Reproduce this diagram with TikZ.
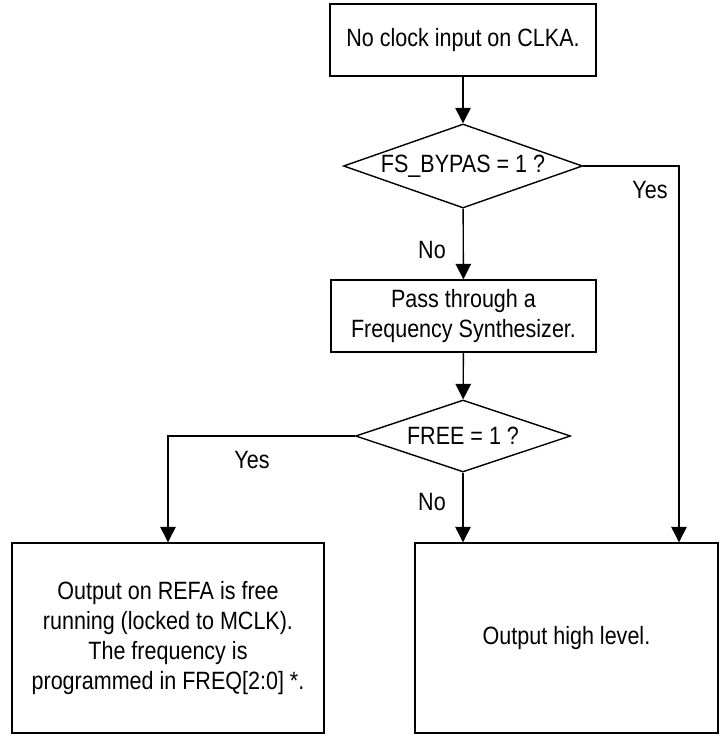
\documentclass[tikz,border=0pt]{standalone}
\usepackage{fontspec}
\setmainfont{Liberation Sans}[FakeStretch=0.86]
\usetikzlibrary{shapes.geometric,arrows.meta}
\begin{document}
\begin{tikzpicture}[x=0.025cm,y=-0.025cm,line width=1pt,>={Triangle[length=11pt,width=11pt]},
		box/.style={draw,rectangle,inner sep=0pt,align=center,font=\fontsize{17.8}{22}\selectfont},
		decision/.style={draw,diamond,inner sep=0pt,font=\fontsize{17.8}{22}\selectfont},
		lbl/.style={font=\fontsize{17.8}{22}\selectfont}]
		\useasboundingbox (0,0) rectangle (720,735);
		
		\node[box,minimum width=6.65cm,minimum height=1.8cm] (clk) at (463,40) {No clock input on CLKA.};
		\node[decision,aspect=2.85,minimum width=5.975cm,minimum height=2.1cm] (byp) at (463,166) {FS\_BYPAS = 1 ?};
		\node[box,minimum width=6.625cm,minimum height=1.8cm] (pass) at (463.5,316) {Pass through a\\Frequency Synthesizer.};
		\node[decision,aspect=2.99,minimum width=5.375cm,minimum height=1.8cm] (free) at (463,436) {FREE = 1 ?};
		\node[box,minimum width=7.8cm,minimum height=4.75cm,font=\fontsize{17.8}{21.5}\selectfont] (refa) at (168,638) {Output on REFA is free\\running (locked to MCLK).\\The frequency is\\programmed in FREQ[2:0] *.};
		\node[box,minimum width=7.575cm,minimum height=4.75cm] (high) at (566.5,638) {Output high level.};
		
		\node[lbl] (yes1) at (650,190) {Yes};
		\node[lbl] (no1) at (432,250) {No};
		\node[lbl] (yes2) at (252,460) {Yes};
		\node[lbl] (no2) at (432,502) {No};
		
		\coordinate (turn) at (679,166);
		
		\draw[->] (clk) -- (byp);
		\draw[->] (byp) -- (pass);
		\draw[->] (pass) -- (free);
		\draw[->] (byp.east) -- (turn) -- (turn |- high.north);
		\draw[->] (free.west) -| (refa.north);
		\draw[->] (free.south) -- (free.south |- high.north);
	\end{tikzpicture}
\end{document}
